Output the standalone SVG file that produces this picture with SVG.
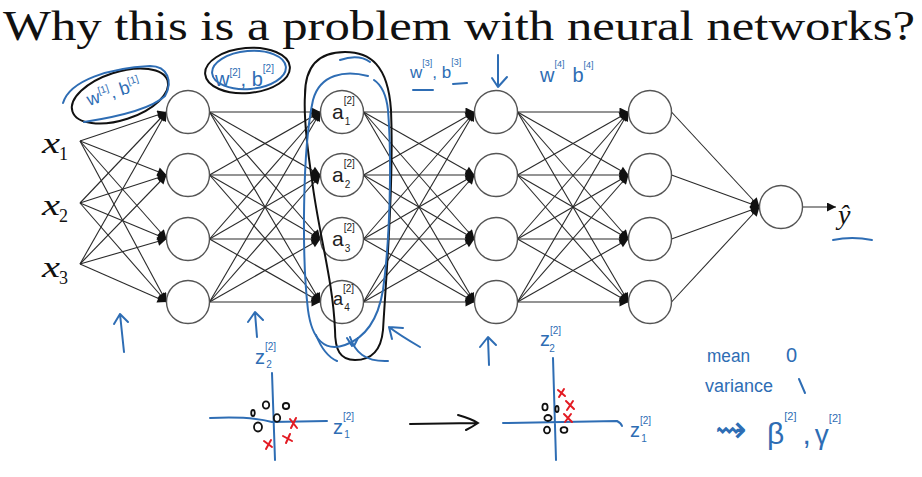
<svg xmlns="http://www.w3.org/2000/svg" width="922" height="477" viewBox="0 0 922 477">
<defs>
<marker id="ah" viewBox="0 0 10 10" refX="10" refY="5" markerWidth="11" markerHeight="9" markerUnits="userSpaceOnUse" orient="auto"><path d="M0,0 L10,5 L0,10 z" fill="#111"/></marker>
</defs>
<style>
.node{fill:#fff;stroke:#555;stroke-width:1.4}
.e{stroke:#2a2a2a;stroke-width:1.1;fill:none;marker-end:url(#ah)}
.bl{stroke:#2e6db4;fill:none;stroke-width:2;stroke-linecap:round;stroke-linejoin:round}
.bk{stroke:#111;fill:none;stroke-width:2;stroke-linecap:round}
.rd{stroke:#e31b23;fill:none;stroke-width:2;stroke-linecap:round}
.pt{stroke:#111;fill:none;stroke-width:1.8}
.bt{fill:#2e6db4;font-family:"Liberation Sans",sans-serif}
.kt{fill:#222;font-family:"Liberation Sans",sans-serif}
.mx{fill:#111;font-family:"Liberation Serif",serif;font-style:italic}
.sb{fill:#111;font-family:"Liberation Serif",serif}
</style>
<rect width="922" height="477" fill="#fff"/>
<text x="3" y="40" font-family="Liberation Serif,serif" font-size="43" fill="#111" textLength="912" lengthAdjust="spacingAndGlyphs">Why this is a problem with neural networks?</text>

<g id="connectors">
<line class="e" x1="80" y1="141" x2="166.5" y2="112"/><line class="e" x1="80" y1="141" x2="166.5" y2="175"/><line class="e" x1="80" y1="141" x2="166.5" y2="239"/><line class="e" x1="80" y1="141" x2="166.5" y2="302"/>
<line class="e" x1="80" y1="203" x2="166.5" y2="112"/><line class="e" x1="80" y1="203" x2="166.5" y2="175"/><line class="e" x1="80" y1="203" x2="166.5" y2="239"/><line class="e" x1="80" y1="203" x2="166.5" y2="302"/>
<line class="e" x1="80" y1="264" x2="166.5" y2="112"/><line class="e" x1="80" y1="264" x2="166.5" y2="175"/><line class="e" x1="80" y1="264" x2="166.5" y2="239"/><line class="e" x1="80" y1="264" x2="166.5" y2="302"/>

<line class="e" x1="209.5" y1="112" x2="320.5" y2="112"/><line class="e" x1="209.5" y1="112" x2="320.5" y2="175"/><line class="e" x1="209.5" y1="112" x2="320.5" y2="239"/><line class="e" x1="209.5" y1="112" x2="320.5" y2="302"/>
<line class="e" x1="209.5" y1="175" x2="320.5" y2="112"/><line class="e" x1="209.5" y1="175" x2="320.5" y2="175"/><line class="e" x1="209.5" y1="175" x2="320.5" y2="239"/><line class="e" x1="209.5" y1="175" x2="320.5" y2="302"/>
<line class="e" x1="209.5" y1="239" x2="320.5" y2="112"/><line class="e" x1="209.5" y1="239" x2="320.5" y2="175"/><line class="e" x1="209.5" y1="239" x2="320.5" y2="239"/><line class="e" x1="209.5" y1="239" x2="320.5" y2="302"/>
<line class="e" x1="209.5" y1="302" x2="320.5" y2="112"/><line class="e" x1="209.5" y1="302" x2="320.5" y2="175"/><line class="e" x1="209.5" y1="302" x2="320.5" y2="239"/><line class="e" x1="209.5" y1="302" x2="320.5" y2="302"/>

<line class="e" x1="363.5" y1="112" x2="474.5" y2="112"/><line class="e" x1="363.5" y1="112" x2="474.5" y2="175"/><line class="e" x1="363.5" y1="112" x2="474.5" y2="239"/><line class="e" x1="363.5" y1="112" x2="474.5" y2="302"/>
<line class="e" x1="363.5" y1="175" x2="474.5" y2="112"/><line class="e" x1="363.5" y1="175" x2="474.5" y2="175"/><line class="e" x1="363.5" y1="175" x2="474.5" y2="239"/><line class="e" x1="363.5" y1="175" x2="474.5" y2="302"/>
<line class="e" x1="363.5" y1="239" x2="474.5" y2="112"/><line class="e" x1="363.5" y1="239" x2="474.5" y2="175"/><line class="e" x1="363.5" y1="239" x2="474.5" y2="239"/><line class="e" x1="363.5" y1="239" x2="474.5" y2="302"/>
<line class="e" x1="363.5" y1="302" x2="474.5" y2="112"/><line class="e" x1="363.5" y1="302" x2="474.5" y2="175"/><line class="e" x1="363.5" y1="302" x2="474.5" y2="239"/><line class="e" x1="363.5" y1="302" x2="474.5" y2="302"/>

<line class="e" x1="517.5" y1="112" x2="628.5" y2="112"/><line class="e" x1="517.5" y1="112" x2="628.5" y2="175"/><line class="e" x1="517.5" y1="112" x2="628.5" y2="239"/><line class="e" x1="517.5" y1="112" x2="628.5" y2="302"/>
<line class="e" x1="517.5" y1="175" x2="628.5" y2="112"/><line class="e" x1="517.5" y1="175" x2="628.5" y2="175"/><line class="e" x1="517.5" y1="175" x2="628.5" y2="239"/><line class="e" x1="517.5" y1="175" x2="628.5" y2="302"/>
<line class="e" x1="517.5" y1="239" x2="628.5" y2="112"/><line class="e" x1="517.5" y1="239" x2="628.5" y2="175"/><line class="e" x1="517.5" y1="239" x2="628.5" y2="239"/><line class="e" x1="517.5" y1="239" x2="628.5" y2="302"/>
<line class="e" x1="517.5" y1="302" x2="628.5" y2="112"/><line class="e" x1="517.5" y1="302" x2="628.5" y2="175"/><line class="e" x1="517.5" y1="302" x2="628.5" y2="239"/><line class="e" x1="517.5" y1="302" x2="628.5" y2="302"/>

<line class="e" x1="671.5" y1="112" x2="759.5" y2="207"/><line class="e" x1="671.5" y1="175" x2="759.5" y2="207"/><line class="e" x1="671.5" y1="239" x2="759.5" y2="207"/><line class="e" x1="671.5" y1="302" x2="759.5" y2="207"/>
<line class="e" x1="802.5" y1="207" x2="836" y2="207"/>
</g>

<g id="x1"><text class="mx" x="42" y="153" font-size="30" textLength="18" lengthAdjust="spacingAndGlyphs">x</text><text class="sb" x="59" y="160" font-size="18">1</text></g>
<g id="x2"><text class="mx" x="42" y="215" font-size="30" textLength="18" lengthAdjust="spacingAndGlyphs">x</text><text class="sb" x="59" y="222" font-size="18">2</text></g>
<g id="x3"><text class="mx" x="42" y="277" font-size="30" textLength="18" lengthAdjust="spacingAndGlyphs">x</text><text class="sb" x="59" y="284" font-size="18">3</text></g>

<g id="l1"><circle class="node" cx="188" cy="112" r="21.5"/><circle class="node" cx="188" cy="175" r="21.5"/><circle class="node" cx="188" cy="239" r="21.5"/><circle class="node" cx="188" cy="302" r="21.5"/></g>
<g id="l2">
<circle class="node" cx="342" cy="112" r="21.5"/><circle class="node" cx="342" cy="175" r="21.5"/><circle class="node" cx="342" cy="239" r="21.5"/><circle class="node" cx="342" cy="302" r="21.5"/>
<text class="kt" x="332" y="119" font-size="21">a<tspan font-size="10" dy="-15">[2]</tspan><tspan font-size="10" dx="-10" dy="21">1</tspan></text>
<text class="kt" x="332" y="182" font-size="21">a<tspan font-size="10" dy="-15">[2]</tspan><tspan font-size="10" dx="-10" dy="21">2</tspan></text>
<text class="kt" x="332" y="246" font-size="21">a<tspan font-size="10" dy="-15">[2]</tspan><tspan font-size="10" dx="-10" dy="21">3</tspan></text>
<text class="kt" x="333" y="305" font-size="18">a<tspan font-size="10" dy="-13">[2]</tspan><tspan font-size="10" dx="-10" dy="19">4</tspan></text>
</g>
<g id="l3"><circle class="node" cx="496" cy="112" r="21.5"/><circle class="node" cx="496" cy="175" r="21.5"/><circle class="node" cx="496" cy="239" r="21.5"/><circle class="node" cx="496" cy="302" r="21.5"/></g>
<g id="l4"><circle class="node" cx="650" cy="112" r="21.5"/><circle class="node" cx="650" cy="175" r="21.5"/><circle class="node" cx="650" cy="239" r="21.5"/><circle class="node" cx="650" cy="302" r="21.5"/></g>
<g id="out"><circle class="node" cx="781" cy="207" r="21.5"/></g>
<g id="yhat"><text class="mx" x="838" y="224" font-size="28">ŷ</text><path class="bl" d="M833,240 Q852,236 872,240"/></g>

<g id="ann-w1">
<ellipse class="bk" cx="120" cy="96" rx="50" ry="24" transform="rotate(-18 120 96)"/>
<path class="bl" d="M63,103 C70,80 110,68 150,66 C168,66 173,82 165,96 C150,110 110,118 84,122"/>
<text class="bt" transform="translate(89,106) rotate(-18)" font-size="18">w<tspan font-size="10" dy="-8">[1]</tspan><tspan dy="8">, b</tspan><tspan font-size="10" dy="-8">[1]</tspan></text>
</g>
<g id="ann-w2">
<ellipse class="bk" cx="247.5" cy="70.5" rx="42.5" ry="22.5" transform="rotate(-5 247.5 70.5)"/>
<ellipse class="bl" cx="249" cy="70" rx="37" ry="19" transform="rotate(-5 249 70)"/>
<text class="bt" x="215" y="86" font-size="20">w<tspan font-size="10" dy="-10">[2]</tspan><tspan dy="10">, b</tspan><tspan font-size="10" dy="-14">[2]</tspan></text>
</g>
<g id="ann-w3">
<text class="bt" x="410" y="78" font-size="17">w<tspan font-size="9" dy="-12">[3]</tspan><tspan dy="12">, b</tspan><tspan font-size="9" dy="-13">[3]</tspan></text>
<path class="bl" d="M413,90 L433,90 M453,84 L467,83"/>
<path class="bl" d="M498,55 L498,87 M492,78 L498,87 L507,77"/>
</g>
<g id="ann-w4">
<text class="bt" x="540" y="82" font-size="20">w<tspan font-size="9" dy="-15">[4]</tspan><tspan dx="8" dy="15">b</tspan><tspan font-size="9" dy="-14">[4]</tspan></text>
</g>
<g id="ann-loop">
<path class="bk" d="M305,95 C305,65 320,52 345,52 C370,52 388,65 391,110 C394,180 386,280 383,330 C381,352 370,360 355,360 C340,360 335,350 335,330 C333,280 318,230 312,180 C306,140 304,110 305,95 Z"/>
<path class="bl" d="M368,76 C345,70 320,74 313,100 C302,150 302,260 308,310 C312,340 325,352 345,345 C365,338 378,320 383,290 C390,240 392,160 388,110 C386,92 380,84 374,80"/>
<path class="bl" d="M340,60 C352,56 363,57 370,62 M316,335 C322,350 330,358 337,361 M350,337 C355,352 365,362 388,361 M347,338 L352,346 M358,338 L354,346"/>
<path class="bl" d="M420,347 C408,340 398,334 389,327 M389,327 L392,339 M389,327 L403,328"/>
</g>
<g id="ann-arrows">
<path class="bl" d="M124,352 L120,314 M114,324 L120,314 L128,322"/>
<path class="bl" d="M257,337 L255,313 M248,322 L255,312 L263,320"/>
<path class="bl" d="M489,365 L488,338 M480,347 L488,337 L496,345"/>
</g>

<g id="plot-left">
<path class="bl" d="M272,373 L275,460 M210,418 Q250,416 272,422 L327,421"/>
<text class="bt" x="255" y="364" font-size="20">z<tspan font-size="10" dy="-14">[2]</tspan><tspan font-size="10" dx="-10" dy="18">2</tspan></text>
<text class="bt" x="333" y="434" font-size="20">z<tspan font-size="10" dy="-14">[2]</tspan><tspan font-size="10" dx="-10" dy="18">1</tspan></text>
<ellipse class="pt" cx="266" cy="405" rx="3.2" ry="3.6"/><ellipse class="pt" cx="286" cy="406" rx="3.2" ry="3"/><ellipse class="pt" cx="253" cy="413" rx="1.8" ry="3"/><ellipse class="pt" cx="277" cy="418" rx="3.2" ry="3.8"/><ellipse class="pt" cx="258" cy="427" rx="4" ry="4.5"/>
<path class="rd" d="M290,419 L297,428 M296,418 L291,428 M283,436 L292,441 M290,434 L286,443 M264,441 L272,447 M271,440 L266,449"/>
<path class="bk" d="M410,424 L476,423 M458,415 Q472,419 478,423 Q472,427 466,430"/>
</g>
<g id="plot-right">
<path class="bl" d="M553,358 L556,460 M503,423 L617,421 Q621,423 622,426"/>
<text class="bt" x="540" y="346" font-size="20">z<tspan font-size="10" dy="-12">[2]</tspan><tspan font-size="10" dx="-12" dy="18">2</tspan></text>
<text class="bt" x="630" y="437" font-size="20">z<tspan font-size="10" dy="-13">[2]</tspan><tspan font-size="10" dx="-10" dy="18">1</tspan></text>
<ellipse class="pt" cx="545" cy="407" rx="2.6" ry="3.4"/><ellipse class="pt" cx="557" cy="409" rx="1.6" ry="3"/><ellipse class="pt" cx="548" cy="418" rx="3.6" ry="3"/><ellipse class="pt" cx="547" cy="430" rx="3" ry="3.4"/><ellipse class="pt" cx="564" cy="430" rx="3.4" ry="2.8"/>
<path class="rd" d="M558,390 L565,396 M564,389 L559,397 M566,401 L574,409 M573,401 L567,410 M564,414 L572,422 M571,414 L565,422"/>
</g>
<g id="notes">
<text class="bt" x="707" y="362" font-size="18" textLength="43" lengthAdjust="spacingAndGlyphs">mean</text>
<text class="bt" x="786" y="362" font-size="20">0</text>
<text class="bt" x="705" y="392" font-size="18" textLength="68" lengthAdjust="spacingAndGlyphs">variance</text>
<path class="bl" d="M799,379 L805,393"/>
<text x="715" y="442" font-family="DejaVu Sans,sans-serif" font-size="38" fill="#2e6db4">⇝</text>
<text class="bt" x="767" y="444" font-size="30">β<tspan font-size="11" dy="-24">[2]</tspan><tspan dx="6" dy="24">,</tspan><tspan dx="4" font-size="28">γ</tspan><tspan font-size="11" dy="-22">[2]</tspan></text>
</g>
</svg>
